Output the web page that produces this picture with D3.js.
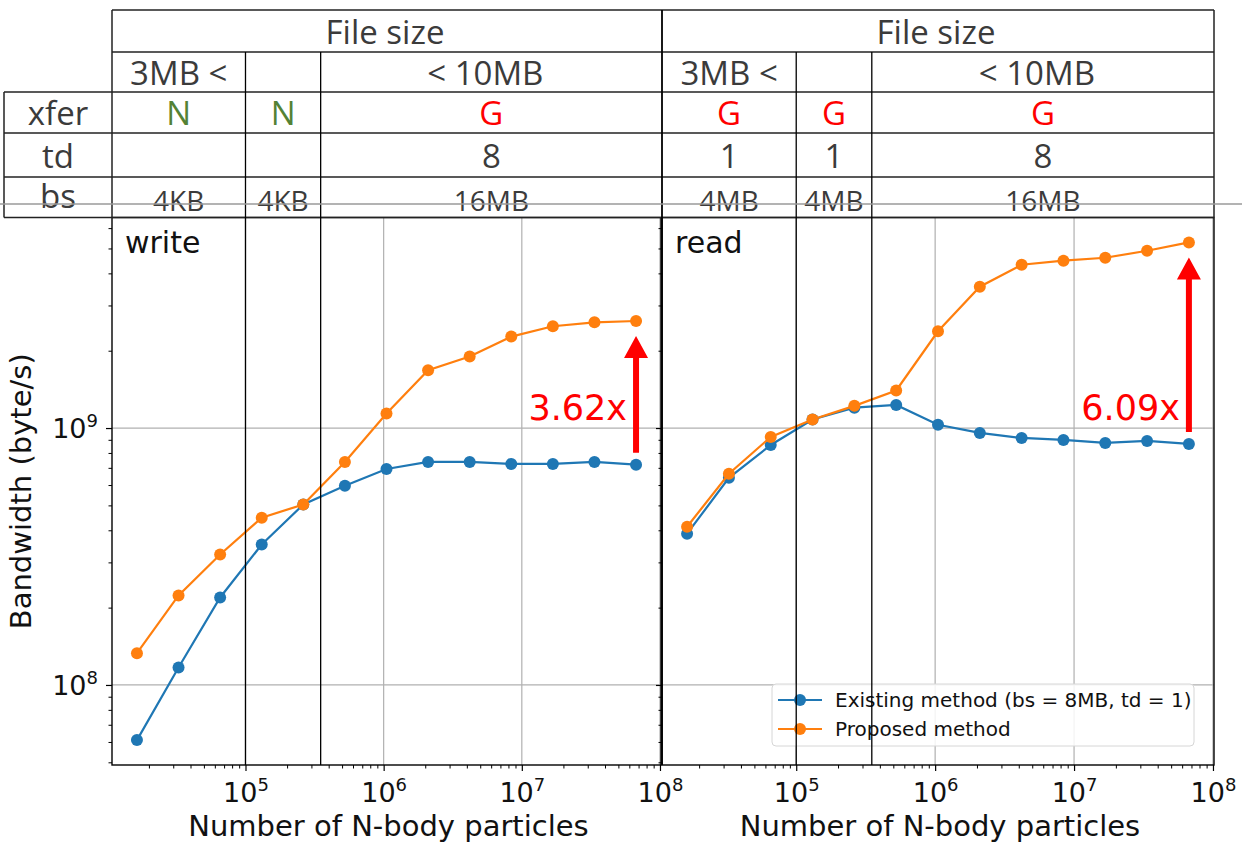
<!DOCTYPE html>
<html>
<head>
<meta charset="utf-8">
<script src="https://cdn.jsdelivr.net/npm/d3@7"></script>
<style>
  body { margin: 0; background: #fff; }
  svg { display: block; }
</style>
</head>
<body>
<svg id="chart" width="1242" height="850"></svg>
<script>
// ---- data -------------------------------------------------------------
const particleCounts = [16384, 32768, 65536, 131072, 262144, 524288, 1048576,
                        2097152, 4194304, 8388608, 16777216, 33554432, 67108864];

const writeExisting = [6.1e7, 1.17e8, 2.19e8, 3.52e8, 5.04e8, 5.96e8, 6.93e8,
                       7.38e8, 7.38e8, 7.25e8, 7.25e8, 7.38e8, 7.2e8];
const writeProposed = [1.33e8, 2.23e8, 3.22e8, 4.48e8, 5.04e8, 7.38e8, 1.14e9,
                       1.68e9, 1.90e9, 2.27e9, 2.49e9, 2.58e9, 2.61e9];
const readExisting  = [3.88e8, 6.40e8, 8.59e8, 1.08e9, 1.20e9, 1.23e9, 1.03e9,
                       9.57e8, 9.15e8, 8.99e8, 8.75e8, 8.91e8, 8.67e8];
const readProposed  = [4.13e8, 6.64e8, 9.23e8, 1.08e9, 1.22e9, 1.40e9, 2.38e9,
                       3.55e9, 4.32e9, 4.48e9, 4.60e9, 4.90e9, 5.28e9];

const panelNames = ["write", "read"];
const seriesNames = ["Existing method (bs = 8MB, td = 1)", "Proposed method"];
const speedupLabels = ["3.62x", "6.09x"];

const xMajorTicks = [1e5, 1e6, 1e7, 1e8];
const yMajorTicks = [1e8, 1e9];

// parameter table above each panel
const regionBounds = [1e5, 3.5e5];
const fileSizeTitle = "File size";
const rowLabels = ["xfer", "td", "bs"];
const sizeLabels = [["3MB <", "", "< 10MB"], ["3MB <", "", "< 10MB"]];
const xferLabels = [["N", "N", "G"], ["G", "G", "G"]];
const tdLabels   = [["", "", "8"], ["1", "1", "8"]];
const bsLabels   = [["4KB", "4KB", "16MB"], ["4MB", "4MB", "16MB"]];

// ---- layout -----------------------------------------------------------
const svg = d3.select("#chart");
const plotTop = 217.5, plotBottom = 765;
const panels = [
  { x0: 112, x1: 661, existing: writeExisting, proposed: writeProposed },
  { x0: 662, x1: 1214, existing: readExisting, proposed: readProposed }
];
const rowY = [10, 52, 92, 133, 177, plotTop];
const tableLeft = 4, tableHeadLeft = 112, tableRight = 1214;

const BLUE = "#1f77b4", ORANGE = "#ff7f0e";
const GRID = "#b0b0b0";
const TABLE_TEXT = "#3b3b3b";
const tableFont = "'Open Sans', 'Noto Sans', sans-serif";
const plotFont = "'DejaVu Sans', sans-serif";

// log scales with matplotlib-style 5% margins (in log space)
function logPadded(values) {
  const e = d3.extent(values).map(Math.log10);
  const pad = (e[1] - e[0]) * 0.05;
  return [10 ** (e[0] - pad), 10 ** (e[1] + pad)];
}
const xDomain = logPadded(particleCounts);
const yDomain = logPadded([...writeExisting, ...writeProposed, ...readExisting, ...readProposed]);
const y = d3.scaleLog().domain(yDomain).range([plotBottom, plotTop]);

panels.forEach(p => {
  p.x = d3.scaleLog().domain(xDomain).range([p.x0, p.x1]);
});

function powerLabel(sel, v, supSize, supDy) {
  const e = Math.round(Math.log10(v));
  sel.append("tspan").text("10");
  sel.append("tspan").attr("font-size", supSize).attr("dy", supDy).text(e);
}

// ---- plot panels ------------------------------------------------------
panels.forEach((p, pi) => {
  const g = svg.append("g");
  const x = p.x;
  const clipId = "clip" + pi;
  svg.append("clipPath").attr("id", clipId)
    .append("rect").attr("x", p.x0).attr("y", plotTop)
    .attr("width", p.x1 - p.x0).attr("height", plotBottom - plotTop);

  // grid
  const grid = g.append("g").attr("clip-path", `url(#${clipId})`);
  grid.selectAll("line.vx").data(xMajorTicks.filter(v => v > xDomain[0] && v < xDomain[1]))
    .join("line").attr("x1", d => x(d)).attr("x2", d => x(d))
    .attr("y1", plotTop).attr("y2", plotBottom)
    .attr("stroke", GRID).attr("stroke-width", 1.2);
  grid.selectAll("line.hy").data(yMajorTicks)
    .join("line").attr("x1", p.x0).attr("x2", p.x1)
    .attr("y1", d => y(d)).attr("y2", d => y(d))
    .attr("stroke", GRID).attr("stroke-width", 1.2);

  // x axis: minor and major ticks
  const minorX = x.ticks().filter(v => !xMajorTicks.includes(v));
  g.append("g").attr("transform", `translate(0,${plotBottom})`)
    .call(d3.axisBottom(x).tickValues(minorX).tickSize(3.5).tickFormat(""))
    .call(a => a.select(".domain").remove())
    .call(a => a.selectAll("line").attr("stroke", "#000").attr("stroke-width", 1));
  const xAx = g.append("g").attr("transform", `translate(0,${plotBottom})`)
    .call(d3.axisBottom(x).tickValues(xMajorTicks.filter(v => v >= xDomain[0] && v <= xDomain[1] * 1.0001))
      .tickSize(6).tickPadding(8).tickFormat(""))
    .call(a => a.select(".domain").remove())
    .call(a => a.selectAll("line").attr("stroke", "#000").attr("stroke-width", 1.2));
  xAx.selectAll(".tick text").each(function (d) {
    const t = d3.select(this).attr("font-family", plotFont).attr("font-size", 27)
      .attr("fill", "#111").attr("dy", null).attr("y", 37).attr("text-anchor", "middle");
    powerLabel(t, d, 18, -11);
  });

  // y axis: minor and major ticks (labels only on the first panel)
  const minorY = y.ticks().filter(v => !yMajorTicks.includes(v));
  g.append("g").attr("transform", `translate(${p.x0},0)`)
    .call(d3.axisLeft(y).tickValues(minorY).tickSize(3.5).tickFormat(""))
    .call(a => a.select(".domain").remove())
    .call(a => a.selectAll("line").attr("stroke", "#000").attr("stroke-width", 1));
  const yAx = g.append("g").attr("transform", `translate(${p.x0},0)`)
    .call(d3.axisLeft(y).tickValues(yMajorTicks).tickSize(6).tickPadding(8).tickFormat(""))
    .call(a => a.select(".domain").remove())
    .call(a => a.selectAll("line").attr("stroke", "#000").attr("stroke-width", 1.2));
  if (pi === 0) {
    yAx.selectAll(".tick text").each(function (d) {
      const t = d3.select(this).attr("font-family", plotFont).attr("font-size", 27)
        .attr("fill", "#111").attr("dy", "0.36em").attr("x", -14).attr("text-anchor", "end");
      powerLabel(t, d, 18, -11);
    });
  }

  // series
  const line = d3.line().x((d, i) => x(particleCounts[i])).y(d => y(d));
  [[p.existing, BLUE], [p.proposed, ORANGE]].forEach(([vals, col]) => {
    const s = g.append("g").attr("clip-path", `url(#${clipId})`);
    s.append("path").datum(vals).attr("d", line)
      .attr("fill", "none").attr("stroke", col).attr("stroke-width", 2.2);
    s.selectAll("circle").data(vals).join("circle")
      .attr("cx", (d, i) => x(particleCounts[i])).attr("cy", d => y(d))
      .attr("r", 6).attr("fill", col);
  });

  // panel name
  g.append("text").attr("x", p.x0 + 13).attr("y", 253)
    .attr("font-family", plotFont).attr("font-size", 30).attr("fill", "#111")
    .text(panelNames[pi]);

  // speedup arrow from existing to proposed at the largest particle count
  const last = particleCounts.length - 1;
  const xa = x(particleCounts[last]);
  const yStart = y(p.existing[last]) - 12;
  const yTip = y(p.proposed[last]) + 15;
  const hw = 12, hl = 22, sw = 3;
  g.append("path")
    .attr("d", `M${xa - sw},${yStart} L${xa - sw},${yTip + hl} L${xa - hw},${yTip + hl} L${xa},${yTip} ` +
               `L${xa + hw},${yTip + hl} L${xa + sw},${yTip + hl} L${xa + sw},${yStart} Z`)
    .attr("fill", "#ff0000");
  g.append("text").attr("x", xa - 9).attr("y", y(1e9) - 8)
    .attr("text-anchor", "end").attr("font-family", plotFont).attr("font-size", 35)
    .attr("fill", "#ff0000").text(speedupLabels[pi]);

  // x label
  g.append("text").attr("x", (p.x0 + p.x1) / 2 + 2).attr("y", 836)
    .attr("text-anchor", "middle").attr("font-family", plotFont).attr("font-size", 29)
    .attr("fill", "#111").text("Number of N-body particles");

  // legend (second panel)
  if (pi === 1) {
    const lw = 422, lh = 62;
    const lx = p.x1 - 20 - lw, ly = plotBottom - 19 - lh;
    const lg = g.append("g").attr("transform", `translate(${lx},${ly})`);
    lg.append("rect").attr("width", lw).attr("height", lh).attr("rx", 4)
      .attr("fill", "#fff").attr("fill-opacity", 0.85)
      .attr("stroke", "#d6d6d6").attr("stroke-width", 1);
    [BLUE, ORANGE].forEach((col, i) => {
      const cy = 16 + i * 29;
      lg.append("line").attr("x1", 6).attr("x2", 50).attr("y1", cy).attr("y2", cy)
        .attr("stroke", col).attr("stroke-width", 2.2);
      lg.append("circle").attr("cx", 28).attr("cy", cy).attr("r", 6).attr("fill", col);
      lg.append("text").attr("x", 63).attr("y", cy + 7)
        .attr("font-family", plotFont).attr("font-size", 20).attr("fill", "#111")
        .text(seriesNames[i]);
    });
  }
});

// y label
svg.append("text")
  .attr("transform", `translate(31,${(plotTop + plotBottom) / 2}) rotate(-90)`)
  .attr("text-anchor", "middle").attr("font-family", plotFont).attr("font-size", 29)
  .attr("fill", "#111").text("Bandwidth (byte/s)");

// plot frames
panels.forEach(p => {
  svg.append("rect").attr("x", p.x0).attr("y", plotTop)
    .attr("width", p.x1 - p.x0).attr("height", plotBottom - plotTop)
    .attr("fill", "none").attr("stroke", "#000").attr("stroke-width", 1.4);
});

// ---- parameter table ---------------------------------------------------
const table = svg.append("g");
const lineAttrs = s => s.attr("stroke", "#222").attr("stroke-width", 1.5);

// horizontal rules
[[rowY[0], tableHeadLeft], [rowY[1], tableHeadLeft], [rowY[2], tableLeft],
 [rowY[3], tableLeft], [rowY[4], tableLeft], [rowY[5], tableLeft]].forEach(([yy, xl]) => {
  table.append("line").attr("x1", xl).attr("x2", tableRight).attr("y1", yy).attr("y2", yy).call(lineAttrs);
});
// outer verticals
table.append("line").attr("x1", tableLeft).attr("x2", tableLeft).attr("y1", rowY[2]).attr("y2", rowY[5]).call(lineAttrs);
table.append("line").attr("x1", tableHeadLeft).attr("x2", tableHeadLeft).attr("y1", rowY[0]).attr("y2", rowY[5]).call(lineAttrs);
table.append("line").attr("x1", tableRight).attr("x2", tableRight).attr("y1", rowY[0]).attr("y2", rowY[5]).call(lineAttrs);
table.append("line").attr("x1", panels[1].x0).attr("x2", panels[1].x0).attr("y1", rowY[0]).attr("y2", plotBottom)
  .attr("stroke", "#000").attr("stroke-width", 1.8);

// region separators run from the table down through each plot
panels.forEach(p => {
  regionBounds.forEach(b => {
    table.append("line").attr("x1", p.x(b)).attr("x2", p.x(b))
      .attr("y1", rowY[1]).attr("y2", plotBottom)
      .attr("stroke", "#000").attr("stroke-width", 1.3);
  });
});

function cellText(cx, cy, txt, size, color) {
  if (!txt) return;
  table.append("text").attr("x", cx).attr("y", cy)
    .attr("text-anchor", "middle").attr("dominant-baseline", "central")
    .attr("font-family", tableFont).attr("font-size", size).attr("fill", color).text(txt);
}

// row labels
const rowCenters = [ (rowY[2] + rowY[3]) / 2, (rowY[3] + rowY[4]) / 2, (rowY[4] + rowY[5]) / 2 - 2 ];
rowLabels.forEach((r, i) => cellText((tableLeft + tableHeadLeft) / 2, rowCenters[i], r, 33, TABLE_TEXT));

panels.forEach((p, pi) => {
  const xR = pi === 0 ? panels[1].x0 : p.x1;
  const bounds = [p.x0, p.x(regionBounds[0]), p.x(regionBounds[1]), xR];
  cellText((p.x0 + xR) / 2 - 2, (rowY[0] + rowY[1]) / 2, fileSizeTitle, 33, TABLE_TEXT);
  for (let c = 0; c < 3; c++) {
    const cx = (bounds[c] + bounds[c + 1]) / 2;
    const shift = c === 2 ? -6 : 0;
    cellText(cx + shift, (rowY[1] + rowY[2]) / 2, sizeLabels[pi][c], 33, TABLE_TEXT);
    const xf = xferLabels[pi][c];
    cellText(cx, rowCenters[0], xf, 33, xf === "G" ? "#ff0000" : "#548235");
    cellText(cx, rowCenters[1], tdLabels[pi][c], 33, TABLE_TEXT);
    cellText(cx, rowCenters[2] + 5, bsLabels[pi][c], 28, TABLE_TEXT);
  }
});

// thin grey page rule crossing the bottom table row
svg.append("line").attr("x1", 0).attr("x2", 1242).attr("y1", 204).attr("y2", 204)
  .attr("stroke", "#9a9a9a").attr("stroke-width", 2).attr("stroke-opacity", 0.75);
</script>
</body>
</html>
